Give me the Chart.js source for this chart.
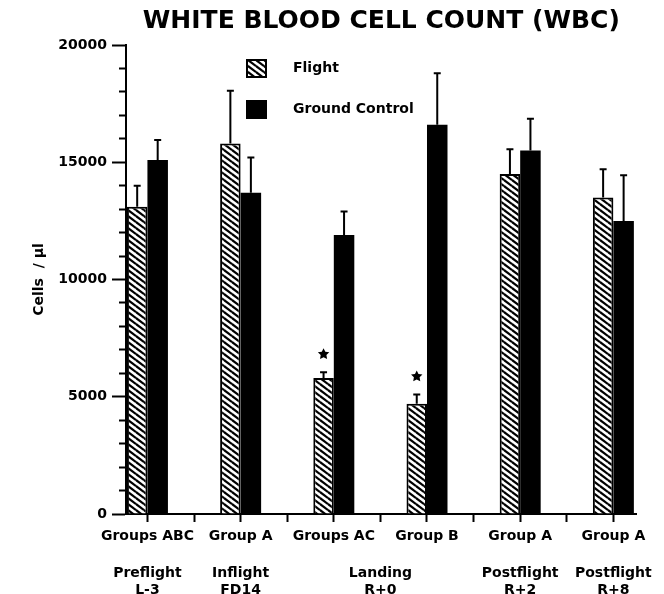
<!DOCTYPE html>
<html>
<head>
<meta charset="utf-8">
<script src="https://cdn.jsdelivr.net/npm/chart.js@4/dist/chart.umd.min.js"></script>
<style>
  html, body { margin: 0; padding: 0; background: #fff; }
  #wrap { width: 664px; height: 594px; }
</style>
</head>
<body>
<div id="wrap"><canvas id="chartWbc"></canvas></div>
<script>
const groups = ['Groups ABC', 'Group A', 'Groups AC', 'Group B', 'Group A', 'Group A'];
const phasePos = [0, 1, 2.5, 4, 5];
const phaseLabels = [['Preflight', 'L-3'], ['Inflight', 'FD14'], ['Landing', 'R+0'], ['Postflight', 'R+2'], ['Postflight', 'R+8']];
const flight = [13100, 15800, 5800, 4700, 14500, 13500];
const flightErr = [900, 2250, 250, 400, 1050, 1200];
const ground = [15100, 13700, 11900, 16600, 15500, 12500];
const groundErr = [850, 1500, 1000, 2200, 1350, 1950];
const signif = [false, false, true, true, false, false];
const xTicks = [0, 0.5, 1, 1.5, 2, 2.5, 3, 3.5, 4, 4.5, 5];

const FONT = 'DejaVu Sans';

// hatched fill for the flight bars
function makeHatch() {
    const c = document.createElement('canvas');
    c.width = 8; c.height = 6;
    const g = c.getContext('2d');
    g.fillStyle = '#fff';
    g.fillRect(0, 0, 8, 6);
    g.strokeStyle = '#000';
    g.lineWidth = 2.2;
    [[-8, 0], [0, 0], [8, 0], [0, -6], [0, 6]].forEach(o => {
        g.beginPath();
        g.moveTo(o[0], o[1]);
        g.lineTo(o[0] + 8, o[1] + 6);
        g.stroke();
    });
    return g.createPattern(c, 'repeat');
}
const hatch = makeHatch();

const errBars = {
    id: 'errBars',
    afterDatasetsDraw(chart) {
        const ctx = chart.ctx;
        const y = chart.scales.y;
        const errs = [flightErr, groundErr];
        ctx.save();
        ctx.strokeStyle = '#000';
        ctx.fillStyle = '#000';
        ctx.lineWidth = 2;
        chart.data.datasets.forEach((ds, di) => {
            chart.getDatasetMeta(di).data.forEach((bar, i) => {
                const v = ds.data[i].y;
                const top = y.getPixelForValue(v + errs[di][i]);
                ctx.beginPath();
                ctx.moveTo(bar.x, bar.y);
                ctx.lineTo(bar.x, top);
                ctx.moveTo(bar.x - 3.5, top);
                ctx.lineTo(bar.x + 3.5, top);
                ctx.stroke();
                if (di === 0 && signif[i]) {
                    const cx = bar.x, cy = top - 18, r = 6;
                    ctx.beginPath();
                    for (let k = 0; k < 10; k++) {
                        const a = -Math.PI / 2 + k * Math.PI / 5;
                        const rr = k % 2 ? r * 0.5 : r;
                        ctx.lineTo(cx + rr * Math.cos(a), cy + rr * Math.sin(a));
                    }
                    ctx.closePath();
                    ctx.fill();
                }
            });
        });
        ctx.restore();
    }
};

const boxLegend = {
    id: 'boxLegend',
    afterDraw(chart) {
        const ctx = chart.ctx;
        const a = chart.chartArea;
        const x = a.left + 121;
        ctx.save();
        ctx.font = 'bold 14px "' + FONT + '"';
        ctx.textBaseline = 'middle';
        chart.data.datasets.forEach((ds, i) => {
            const cy = a.top + 23 + i * 41;
            ctx.fillStyle = ds.backgroundColor;
            ctx.fillRect(x, cy - 8, 19, 17);
            ctx.strokeStyle = '#000';
            ctx.lineWidth = 2;
            ctx.strokeRect(x, cy - 8, 19, 17);
            ctx.fillStyle = '#000';
            ctx.fillText(ds.label, x + 46, cy);
        });
        ctx.restore();
    }
};

const tickFont = { family: FONT, size: 14, weight: 'bold' };

var ctx = document.getElementById('chartWbc').getContext('2d');
var chart = new Chart(ctx, {
    type: 'bar',
    data: {
        datasets: [
            {
                label: 'Flight',
                backgroundColor: hatch,
                borderColor: '#000',
                borderWidth: 2,
                data: flight.map((v, i) => ({ x: i, y: v }))
            },
            {
                label: 'Ground Control',
                backgroundColor: '#000',
                borderColor: '#000',
                borderWidth: 0,
                data: ground.map((v, i) => ({ x: i, y: v }))
            }
        ]
    },
    options: {
        responsive: true,
        maintainAspectRatio: false,
        animation: false,
        categoryPercentage: 0.88,
        barPercentage: 1.0,
        layout: { padding: { left: 0, right: 26, top: 0, bottom: 0 } },
        plugins: {
            legend: { display: false },
            tooltip: { enabled: false },
            title: {
                display: true,
                text: 'WHITE BLOOD CELL COUNT (WBC)',
                fullSize: false,
                color: '#000',
                font: { family: FONT, size: 25, weight: 'bold' },
                padding: { top: 6, bottom: 9 }
            }
        },
        scales: {
            x: {
                type: 'linear',
                offset: false,
                min: -0.23,
                max: 5.25,
                bounds: 'data',
                position: 'bottom',
                weight: 0,
                afterBuildTicks: s => { s.ticks = xTicks.map(v => ({ value: v })); },
                afterFit: s => { s.height = 40; },
                grid: { offset: false, drawOnChartArea: false, tickLength: 8, tickWidth: 2, tickColor: '#000' },
                border: { color: '#000', width: 2 },
                ticks: {
                    autoSkip: false, maxRotation: 0, padding: 6, color: '#000', font: tickFont,
                    callback: v => Number.isInteger(v) ? groups[v] : ''
                }
            },
            x2: {
                type: 'linear',
                offset: false,
                min: -0.23,
                max: 5.25,
                bounds: 'data',
                position: 'bottom',
                weight: 1,
                afterBuildTicks: s => { s.ticks = phasePos.map(v => ({ value: v })); },
                afterFit: s => { s.height = 40; },
                grid: { display: false, drawTicks: false, offset: false },
                border: { display: false },
                ticks: {
                    autoSkip: false, maxRotation: 0, padding: 11, color: '#000', font: tickFont,
                    callback: (v, i) => phaseLabels[i]
                }
            },
            y: {
                min: 0,
                max: 20000,
                afterFit: s => { s.width = 126; },
                grid: {
                    drawOnChartArea: false, tickLength: 14, tickWidth: 2, tickColor: '#000',
                    tickBorderDash: c => (c.tick && c.tick.value % 5000) ? [0, 7, 20, 0] : []
                },
                border: { color: '#000', width: 2 },
                ticks: {
                    stepSize: 1000, maxTicksLimit: 30, autoSkip: false, padding: 5, color: '#000', font: tickFont,
                    callback: v => v % 5000 === 0 ? String(v) : ''
                },
                title: {
                    display: true,
                    text: 'Cells  / µl',
                    color: '#000',
                    font: { family: FONT, size: 14, weight: 'bold' },
                    padding: { top: 31, bottom: 0 }
                }
            }
        }
    },
    plugins: [errBars, boxLegend]
});
</script>
</body>
</html>
